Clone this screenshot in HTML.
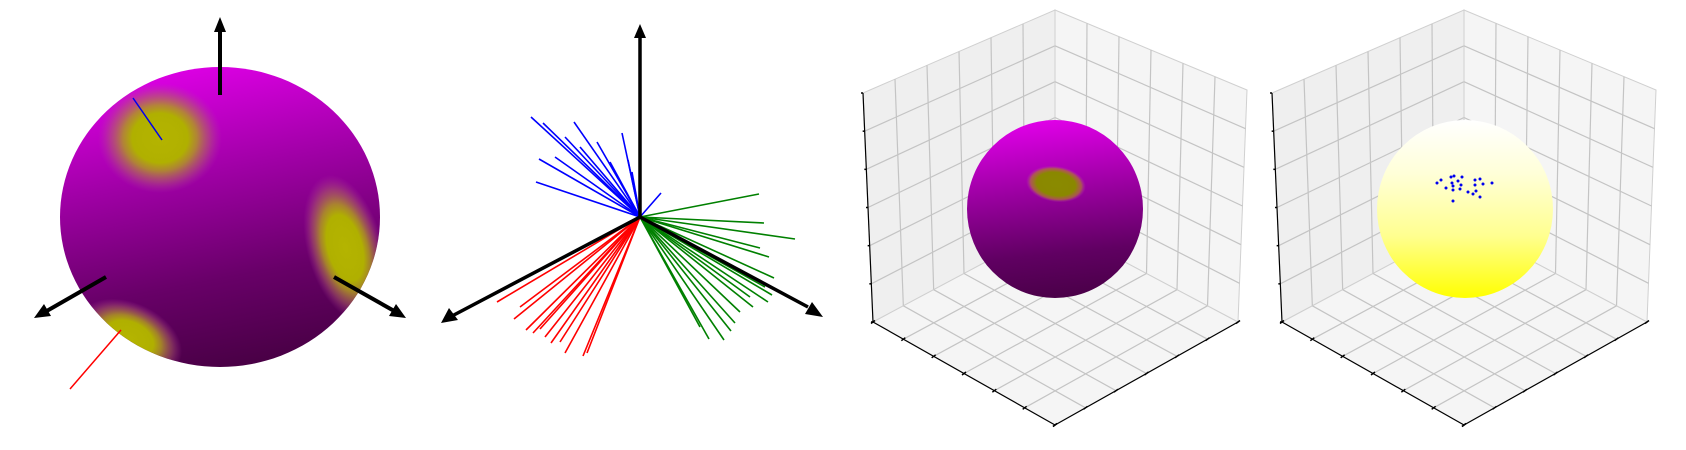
<!DOCTYPE html>
<html><head><meta charset="utf-8"><style>
html,body{margin:0;padding:0;background:#fff;width:1686px;height:450px;overflow:hidden}
svg{display:block;font-family:"Liberation Sans",sans-serif}
</style></head><body>
<svg id="fig" width="1686" height="450" viewBox="0 0 1686 450" xmlns="http://www.w3.org/2000/svg">
<defs>
  <linearGradient id="sph1" x1="0.4" y1="0" x2="0.6" y2="1">
    <stop offset="0" stop-color="#dc00e4"/>
    <stop offset="0.35" stop-color="#a000a6"/>
    <stop offset="0.7" stop-color="#680068"/>
    <stop offset="1" stop-color="#480044"/>
  </linearGradient>
  <linearGradient id="sph3" x1="0.45" y1="0" x2="0.55" y2="1">
    <stop offset="0" stop-color="#e000e8"/>
    <stop offset="0.4" stop-color="#9a00a0"/>
    <stop offset="0.75" stop-color="#600062"/>
    <stop offset="1" stop-color="#4a0048"/>
  </linearGradient>
  <linearGradient id="sph4" x1="0" y1="0" x2="0" y2="1">
    <stop offset="0" stop-color="#ffffff"/>
    <stop offset="0.3" stop-color="#ffffd8"/>
    <stop offset="0.65" stop-color="#ffff90"/>
    <stop offset="1" stop-color="#ffff00"/>
  </linearGradient>
  <radialGradient id="spot">
    <stop offset="0" stop-color="#b4b400"/>
    <stop offset="0.45" stop-color="#b0b000"/>
    <stop offset="0.6" stop-color="#b09a20" stop-opacity="0.85"/>
    <stop offset="0.8" stop-color="#b06a60" stop-opacity="0.5"/>
    <stop offset="1" stop-color="#b040a0" stop-opacity="0"/>
  </radialGradient>
  <radialGradient id="spot3">
    <stop offset="0" stop-color="#8a8a00"/>
    <stop offset="0.65" stop-color="#8a8800"/>
    <stop offset="0.85" stop-color="#b07a30" stop-opacity="0.7"/>
    <stop offset="1" stop-color="#b040b0" stop-opacity="0"/>
  </radialGradient>
  <clipPath id="clip1"><ellipse cx="220" cy="217" rx="160" ry="150"/></clipPath>
</defs>
<g id="p1">
  <ellipse cx="220" cy="217" rx="160" ry="150" fill="url(#sph1)"/>
  <g clip-path="url(#clip1)">
    <ellipse cx="160" cy="138" rx="62" ry="55" fill="url(#spot)"/>
    <ellipse cx="345" cy="248" rx="38" ry="75" fill="url(#spot)" transform="rotate(-15 345 248)"/>
    <ellipse cx="130" cy="338" rx="55" ry="35" fill="url(#spot)" transform="rotate(25 130 338)"/>
  </g>
  <line x1="133" y1="98" x2="162" y2="140" stroke="#0000ee" stroke-width="1.5"/>
  <line x1="121" y1="330" x2="70" y2="389" stroke="#ff0000" stroke-width="1.5"/>
  <g stroke="#000" stroke-width="4">
    <line x1="220" y1="95" x2="220" y2="28"/>
    <line x1="106" y1="277" x2="45" y2="312"/>
    <line x1="334" y1="277" x2="396" y2="312"/>
  </g>
  <polygon points="220,17 214,32 226,32" fill="#000"/>
  <polygon points="34,318 44,304 51,316" fill="#000"/>
  <polygon points="406,318 389,316 396,304" fill="#000"/>
</g>
<g id="p2"></g>
<g id="p3"></g>
<g id="p4"></g>
</svg>
<script>
// Panel 2 data: endpoint offsets (dx, dy) of vectors from the common origin
var blueDX = [-109,-97,-66,-18,-101,-104,-43,21,-12,-60,-75,-30,-8,-85];
var blueDY = [-100,-94,-95,-84,-58,-35,-75,-24,-57,-70,-80,-55,-45,-60];
var greenDX = [119,124,155,120,129,134,128,113,95,91,84,69,100,110,60,125,132];
var greenDY = [-23,6,22,31,40,61,85,90,106,114,123,122,95,80,110,70,78];
var redDX = [-143,-126,-114,-107,-89,-75,-57,-53,-120,-100,-95,-80];
var redDY = [85,102,113,116,126,136,139,136,90,112,120,125];
// Panel 4 data: scatter point offsets from sphere center
var ptDX = [-24,-28,-14,-11,-3,-7,-13,-4,-12,-19,-12,-5,3,8,11,10,10,15,18,15,-12,27];
var ptDY = [-29,-26,-32,-33,-32,-28,-26,-24,-23,-21,-19,-20,-17,-15,-18,-24,-29,-30,-25,-12,-8,-26];

var NS='http://www.w3.org/2000/svg';
function mk(tag, attrs, parent){var e=document.createElementNS(NS,tag);for(var k in attrs)e.setAttribute(k,attrs[k]);parent.appendChild(e);return e;}

// ---- Panel 2 ----
var p2=document.getElementById('p2');
var ox=640, oy=217;
function drawBundle(dx,dy,color,name){
  for(var i=0;i<dx.length;i++){
    var l=mk('line',{x1:ox,y1:oy,x2:ox+dx[i],y2:oy+dy[i],stroke:color,'stroke-width':1.6},p2);
    
    
  }
}
drawBundle(blueDX,blueDY,'#0000ff','blue-vector');
drawBundle(greenDX,greenDY,'#008000','green-vector');
drawBundle(redDX,redDY,'#ff0000','red-vector');
var ax=[[ox,oy,ox,32],[ox,oy,452,316],[ox,oy,808,307]];
for(var i=0;i<ax.length;i++){
  var a=mk('line',{x1:ax[i][0],y1:ax[i][1],x2:ax[i][2],y2:ax[i][3],stroke:'#000','stroke-width':3.5},p2);
  
  
}
var h1=mk('polygon',{points:'640,24 634,38 646,38',fill:'#000'},p2);


var h2=mk('polygon',{points:'441,323 449,308 458,320',fill:'#000'},p2);


var h3=mk('polygon',{points:'823,317 805,314 812,302',fill:'#000'},p2);



// ---- 3D boxes ----
function lerp(a,b,t){return [a[0]+(b[0]-a[0])*t,a[1]+(b[1]-a[1])*t];}
function drawBox(g,off){
  var T=[1055+off,10],L=[863+off,93],R=[1247+off,90],BL=[873+off,322],BR=[1238+off,322],B=[1055+off,425],C=[1055+off,225];
  var faces=[[[L,T,C,BL],'#efefef','left-wall'],[[T,R,BR,C],'#f5f5f5','right-wall'],[[BL,C,BR,B],'#f5f5f5','floor']];
  var n=6;
  for(var f=0;f<faces.length;f++){
    var q=faces[f][0];
    var p=mk('polygon',{points:q.map(function(v){return v.join(',');}).join(' '),fill:faces[f][1],stroke:'#d0d0d0','stroke-width':1},g);
    
    
    for(var k=1;k<n;k++){
      var t=k/n;
      var a1=lerp(q[0],q[1],t),b1=lerp(q[3],q[2],t);
      var a2=lerp(q[0],q[3],t),b2=lerp(q[1],q[2],t);
      var g1=mk('line',{x1:a1[0],y1:a1[1],x2:b1[0],y2:b1[1],stroke:'#c4c4c4','stroke-width':1.2},g);
      
      
      var g2=mk('line',{x1:a2[0],y1:a2[1],x2:b2[0],y2:b2[1],stroke:'#c4c4c4','stroke-width':1.2},g);
      
      
    }
  }
  var edges=[[L,BL,'z-axis-line'],[BL,B,'x-axis-line'],[B,BR,'y-axis-line']];
  for(var e=0;e<edges.length;e++){
    var P=edges[e][0],Q=edges[e][1];
    var el=mk('line',{x1:P[0],y1:P[1],x2:Q[0],y2:Q[1],stroke:'#000','stroke-width':1.2},g);
    
    
    for(var k=0;k<=n;k++){
      var pt=lerp(P,Q,k/n);
      var tk=mk('line',{x1:pt[0]-2,y1:pt[1]+(e==0?0:1.5),x2:pt[0]+(e==0?0:2),y2:pt[1]-(e==0?0:1.5),stroke:'#000','stroke-width':1.5},g);
      
      
    }
  }
}
var p3=document.getElementById('p3');
drawBox(p3,0);
var s3=mk('ellipse',{cx:1055,cy:209,rx:88,ry:89,fill:'url(#sph3)'},p3);


var sp3=mk('ellipse',{cx:1056,cy:184,rx:30,ry:18,fill:'url(#spot3)',transform:'rotate(8 1056 184)'},p3);



var p4=document.getElementById('p4');
drawBox(p4,409);
var s4=mk('ellipse',{cx:1465,cy:209,rx:88,ry:89,fill:'url(#sph4)'},p4);


for(var i=0;i<ptDX.length;i++){
  var d=mk('circle',{cx:1465+ptDX[i],cy:209+ptDY[i],r:1.5,fill:'#0000ee'},p4);
  
  
}
</script>
</body></html>
